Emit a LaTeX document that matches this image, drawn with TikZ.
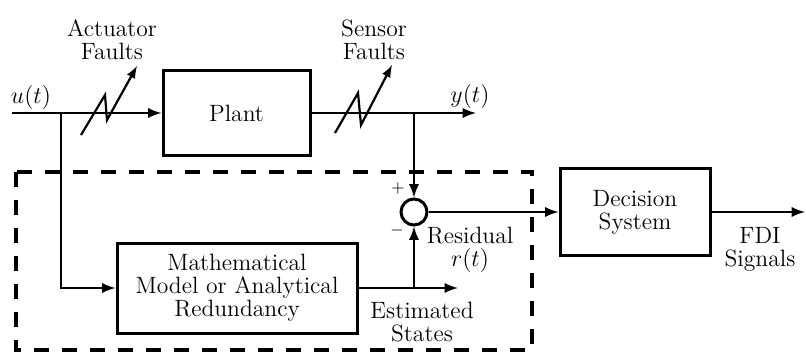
\documentclass[tikz,border=0pt]{standalone}
\usetikzlibrary{arrows}

\newcommand{\lblfont}{\fontsize{11.8}{11.6}\selectfont}

\tikzset{
  block/.style={draw, line width=1.5pt, inner sep=0pt, align=center, font=\lblfont},
  lbl/.style={inner sep=0pt, align=center, font=\lblfont},
  faultline/.style={-latex, line width=1.1pt},
  modelbox/.style={line width=1.7pt, dash pattern=on 7.5pt off 6.5pt}
}

\begin{document}
\begin{tikzpicture}[x=0.5pt, y=-0.5pt, line width=1.3pt]
\useasboundingbox (0,0) rectangle (806,352);

\draw[modelbox] (16,172) rectangle (532,350);

\node[block, minimum width=73.5pt, minimum height=42.5pt] (plant) at (236.5,113) {Plant};
\node[block, minimum width=120pt, minimum height=45pt] (model) at (237,288) {Mathematical\\Model or Analytical\\Redundancy};
\node[block, minimum width=75pt, minimum height=43.5pt] (decision) at (635,212) {Decision\\System};
\node[draw, circle, line width=1.5pt, minimum size=13pt, inner sep=0pt] (sum) at (414,212) {};

\coordinate (uin) at (12,113);
\coordinate (ubr) at (61,113);
\coordinate (ybr) at (414,113);
\coordinate (yout) at (476,113);
\coordinate (ebr) at (414,288);
\coordinate (eout) at (458,288);
\coordinate (fdi) at (805,212);

% signal lines
\draw[-latex] (uin) -- (plant);
\draw[-latex] (ubr) |- (model);
\draw[-latex] (plant) -- (yout);
\draw[-latex] (ybr) -- (sum);
\draw (model) -- (ebr);
\draw[-latex] (ebr) -- (sum);
\draw[-latex] (ebr) -- (eout);
\draw[-latex] (sum) -- (decision);
\draw[-latex] (decision) -- (fdi);

% faults
\draw[faultline] (81,135) -- (105,95) -- (107,120) -- (137,66);
\draw[faultline] (335,133) -- (358,93) -- (361,125) -- (392,65);

\node[lbl] (act) at (112,40) {Actuator\\Faults};
\node[lbl] (sen) at (374,40) {Sensor\\Faults};
\node[lbl] (u) at (31,98) {$u(t)$};
\node[lbl] (y) at (470,97) {$y(t)$};
\node[lbl] (res) at (470,250) {Residual\\$r(t)$};
\node[lbl] (est) at (422,322) {Estimated\\States};
\node[lbl] (sig) at (760,249) {FDI\\Signals};
\node[lbl, font=\footnotesize] (plus) at (398,188) {$+$};
\node[lbl, font=\footnotesize] (minus) at (397,230) {$-$};
\end{tikzpicture}
\end{document}
